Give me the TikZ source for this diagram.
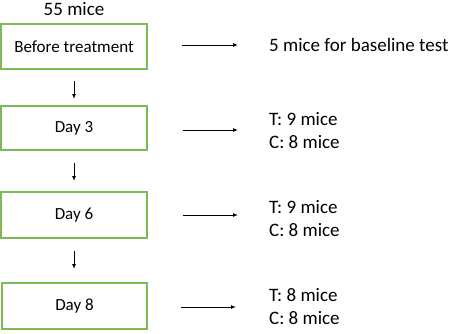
\documentclass[tikz,border=0pt]{standalone}
\usepackage{fontspec}
\setmainfont{Carlito}
\usetikzlibrary{arrows.meta}
\definecolor{boxgreen}{RGB}{125,185,85}
\begin{document}
\begin{tikzpicture}[x=1pt,y=-1pt,
  stage/.style={draw=boxgreen,line width=2pt,inner sep=0pt,font=\fontsize{17}{20}\selectfont},
  lbl/.style={anchor=west,inner sep=0pt,align=left,font=\fontsize{19}{23}\selectfont},
  arr/.style={-{Latex[length=5pt,width=4pt]},line width=1pt}]
\useasboundingbox (0,0) rectangle (450,333);
\node[inner sep=0pt,font=\fontsize{19}{22}\selectfont] (top) at (74,9) {55 mice};
\node[stage,minimum width=146pt,minimum height=45pt] (b1) at (74,46.5) {Before treatment};
\node[stage,minimum width=146pt,minimum height=44pt] (b2) at (74,128) {Day 3};
\node[stage,minimum width=146pt,minimum height=46pt] (b3) at (74,215) {Day 6};
\node[stage,minimum width=145pt,minimum height=46pt] (b4) at (74.5,306) {Day 8};
\draw[arr] (b1.south) ++(0,11) coordinate (d1s) -- ++(0,18) coordinate (d1e);
\draw[arr] (b2.south) ++(0,12) coordinate (d2s) -- ++(0,18) coordinate (d2e);
\draw[arr] (b3.south) ++(0,12) coordinate (d3s) -- ++(0,18) coordinate (d3e);
\coordinate (a1s) at (182,45); \coordinate (a1e) at (238,45);
\coordinate (a2s) at (183,130); \coordinate (a2e) at (238,130);
\coordinate (a3s) at (183,215); \coordinate (a3e) at (238,215);
\coordinate (a4s) at (181,307); \coordinate (a4e) at (236,307);
\draw[arr] (a1s) -- (a1e);
\draw[arr] (a2s) -- (a2e);
\draw[arr] (a3s) -- (a3e);
\draw[arr] (a4s) -- (a4e);
\node[lbl] (t1) at (269,45) {5 mice for baseline test};
\node[lbl] (t2) at (269,130.5) {T: 9 mice\\C: 8 mice};
\node[lbl] (t3) at (269,218.5) {T: 9 mice\\C: 8 mice};
\node[lbl] (t4) at (269,307) {T: 8 mice\\C: 8 mice};
\end{tikzpicture}
\end{document}
